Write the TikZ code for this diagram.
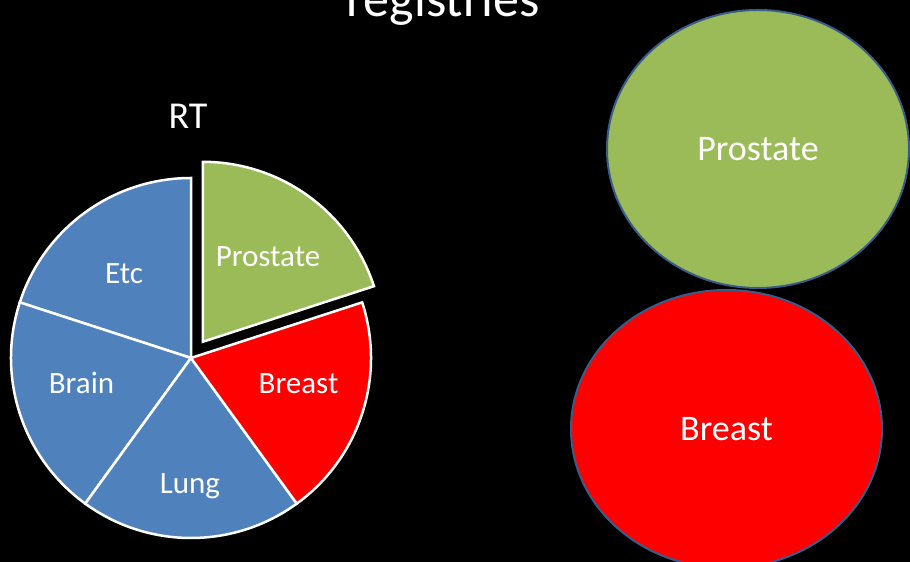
\documentclass[tikz,border=0pt]{standalone}
\usepackage{fontspec}
\setmainfont{Carlito}
\usepackage{xcolor}
\usepackage{tikz}
\usetikzlibrary{shapes.geometric}
\definecolor{rtblue}{HTML}{4F81BD}
\definecolor{rtgreen}{HTML}{9BBB59}
\definecolor{rtred}{HTML}{FF0000}
\definecolor{rtedge}{HTML}{385D8A}
\tikzset{
	slice/.style    = {draw=white, line width=2.5pt, line join=miter},
	pielabel/.style = {text=white, anchor=base, inner sep=0pt,
		font=\fontsize{31}{31}\selectfont},
	bubble/.style   = {shape=ellipse, draw=rtedge, line width=2pt,
		inner sep=0pt, text=white, font=\fontsize{36}{36}\selectfont}
}

\begin{document}
\begin{tikzpicture}[x=1pt, y=1pt]
\fill[black] (0,0) rectangle (910,562);
\useasboundingbox (0,0) rectangle (910,562);

\node [text=white, anchor=base, inner sep=0pt, font=\fontsize{52}{52}\selectfont] (title) at (443,545) {registries};
\node [text=white, anchor=base, inner sep=0pt, font=\fontsize{38}{38}\selectfont] (rt) at (188,433) {RT};

% pie, five equal slices
\coordinate (c) at (191,204);
\draw [slice, fill=rtblue] (c) -- ++(90:180) arc[start angle=90, end angle=162, radius=180] -- cycle;
\draw [slice, fill=rtblue] (c) -- ++(162:180) arc[start angle=162, end angle=234, radius=180] -- cycle;
\draw [slice, fill=rtblue] (c) -- ++(234:180) arc[start angle=234, end angle=306, radius=180] -- cycle;
\draw [slice, fill=rtred] (c) -- ++(306:180) arc[start angle=306, end angle=378, radius=180] -- cycle;
% pulled out slice
\draw [slice, fill=rtgreen] ([shift={(54:20)}]c) -- ++(18:180) arc[start angle=18, end angle=90, radius=180] -- cycle;

\node [pielabel] (etc) at (124,278) {Etc};
\node [pielabel] (brain) at (81.5,168) {Brain};
\node [pielabel] (lung) at (190,68) {Lung};
\node [pielabel] (breastslice) at (298.5,168) {Breast};
\node [pielabel] (prostateslice) at (268,295) {Prostate};

% registries
\node [bubble, fill=rtgreen, minimum width=302, minimum height=278] (prostate) at (758,413) {Prostate};
\node [bubble, fill=rtred, minimum width=311, minimum height=278] (breast) at (726.5,133) {Breast};
\end{tikzpicture}
\end{document}
